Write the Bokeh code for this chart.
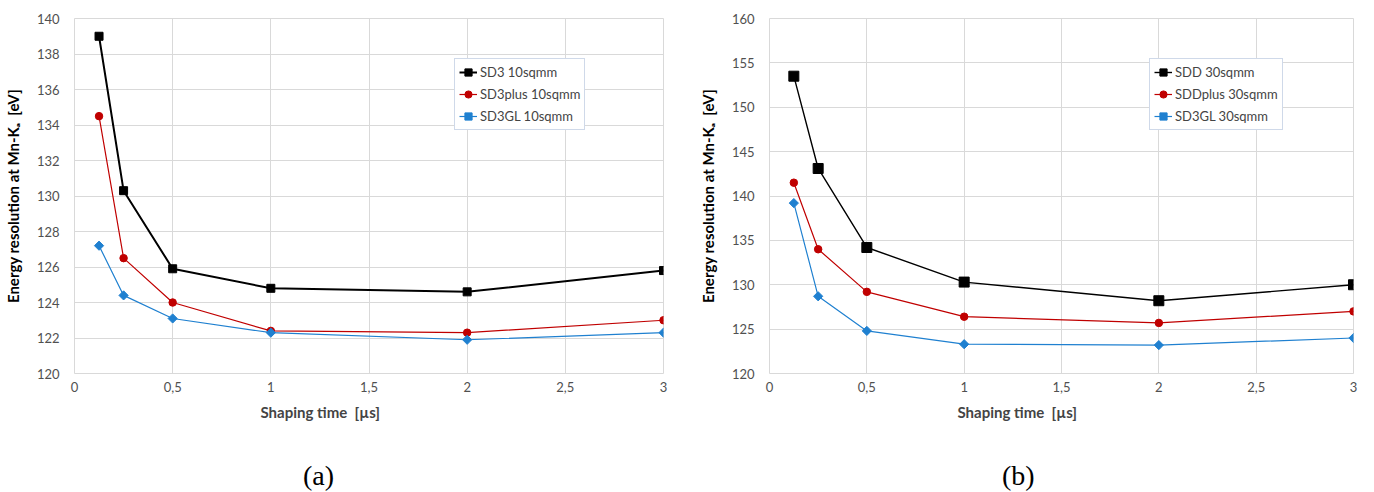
import math
from bokeh.plotting import figure
from bokeh.models import FixedTicker, Legend, LegendItem, Title, Range1d, Div
from bokeh.layouts import row, column
from bokeh.embed import file_html
from bokeh.resources import INLINE

# ---- data ----
shaping_time = [0.125, 0.25, 0.5, 1, 2, 3]

sd3_10 = [139.0, 130.3, 125.9, 124.8, 124.6, 125.8]
sd3plus_10 = [134.5, 126.5, 124.0, 122.4, 122.3, 123.0]
sd3gl_10 = [127.2, 124.4, 123.1, 122.3, 121.9, 122.3]
names_a = ["SD3 10sqmm", "SD3plus 10sqmm", "SD3GL 10sqmm"]

sdd_30 = [153.5, 143.1, 134.2, 130.3, 128.2, 130.0]
sddplus_30 = [141.5, 134.0, 129.2, 126.4, 125.7, 127.0]
sd3gl_30 = [139.2, 128.7, 124.8, 123.3, 123.2, 124.0]
names_b = ["SDD 30sqmm", "SDDplus 30sqmm", "SD3GL 30sqmm"]

x_ticks = [0, 0.5, 1, 1.5, 2, 2.5, 3]
x_tick_labels = ["0", "0,5", "1", "1,5", "2", "2,5", "3"]
y_ticks_a = list(range(120, 141, 2))
y_ticks_b = list(range(120, 161, 5))
captions = ["(a)", "(b)"]

colors = ["#000000", "#c00000", "#1f80d0"]
FONT = "Lato"


def make_panel(series, names, y_range, y_ticks, width, bl, br, sq_size, lw_black, lab_off):
    p = figure(width=width, height=459, output_backend="svg", toolbar_location=None,
               x_range=Range1d(0, 3), y_range=Range1d(*y_range),
               min_border_left=bl, min_border_right=br, min_border_top=18, min_border_bottom=86)
    p.outline_line_color = "#d9d9d9"
    p.background_fill_color = "white"
    p.border_fill_color = "white"

    for ax in (p.xaxis[0], p.yaxis[0]):
        ax.axis_line_color = None
        ax.major_tick_line_color = None
        ax.minor_tick_line_color = None
        ax.major_label_text_font = FONT
        ax.major_label_text_font_size = "13px"
        ax.major_label_text_color = "#505050"
        ax.axis_label_text_font = FONT
        ax.axis_label_text_font_size = "15px"
        ax.axis_label_text_font_style = "bold"
        ax.axis_label_text_color = "#000000"
    p.xaxis.ticker = FixedTicker(ticks=x_ticks)
    p.xaxis.major_label_overrides = {t: l for t, l in zip(x_ticks, x_tick_labels)}
    p.xaxis.major_label_standoff = 2
    p.yaxis.ticker = FixedTicker(ticks=y_ticks)
    p.yaxis.major_label_standoff = 9
    p.yaxis.axis_label = "Energy resolution at Mn-K\u2090\u00a0\u00a0[eV]"
    p.yaxis.axis_label_standoff = 12
    p.xgrid.grid_line_color = "#d9d9d9"
    p.ygrid.grid_line_color = "#d9d9d9"
    p.xgrid.ticker = FixedTicker(ticks=x_ticks)
    p.ygrid.ticker = FixedTicker(ticks=y_ticks)

    items = []
    specs = [("square", sq_size, 0.0, lw_black),
             ("circle", 7.5, 0.0, 1.2),
             ("square", 6.5, math.pi / 4, 1.2)]
    for ys, name, c, (m, s, ang, w) in zip(series, names, colors, specs):
        r1 = p.line(shaping_time, ys, line_color=c, line_width=w)
        r2 = p.scatter(shaping_time, ys, marker=m, size=s, angle=ang,
                       fill_color=c, line_color=c)
        items.append(LegendItem(label=name, renderers=[r1, r2]))
    leg = Legend(items=items, location=(380, 243))
    leg.label_text_font = FONT
    leg.label_text_font_size = "13px"
    leg.label_height = 18
    leg.glyph_height = 18
    leg.glyph_width = 18
    leg.spacing = 4
    leg.padding = 4
    leg.margin = 0
    leg.label_standoff = 3
    leg.border_line_color = "#9fb4d4"
    leg.border_line_width = 1
    leg.background_fill_alpha = 1
    p.add_layout(leg)

    xl = Title(text="Shaping time\u00a0\u00a0[\u00b5s]", align="left", offset=lab_off,
               text_font=FONT, text_font_size="15px", text_font_style="bold",
               standoff=12)
    p.add_layout(xl, "below")
    return p


def make_caption(text, width, left):
    html = ('<div style="margin-left:%dpx;font-family:\'Liberation Serif\';'
            'font-size:28px;line-height:33px;color:#000;">%s</div>' % (left, text))
    return Div(text=html, width=width, height=33, margin=0)


pa = make_panel([sd3_10, sd3plus_10, sd3gl_10], names_a, (120, 140), y_ticks_a,
                695, 72, 32, 8, 2.0, 186)
pb = make_panel([sdd_30, sddplus_30, sd3gl_30], names_b, (120, 160), y_ticks_b,
                679, 67, 21, 10, 1.4, 188)
ca = make_caption(captions[0], 695, 303)
cb = make_caption(captions[1], 679, 307)

layout = column(row(pa, pb), row(ca, cb))
open("out.html", "w").write(file_html(layout, INLINE))
